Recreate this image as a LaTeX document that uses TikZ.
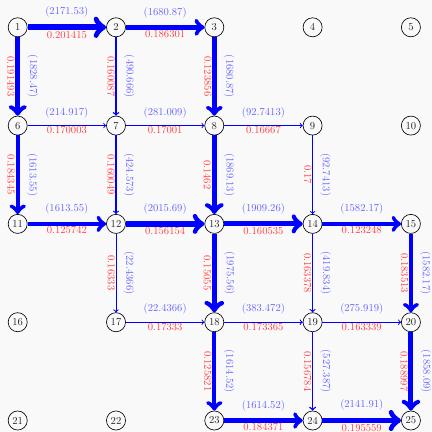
\documentclass[tikz,border=0pt]{standalone}
\usetikzlibrary{arrows}
\tikzset{
  vtx/.style={circle, draw=black, line width=0.6pt, minimum size=18pt, inner sep=0pt, fill=gray!5, text=black!85},
  fline/.style={draw=blue, ->},
  flowlab/.style={text=blue!60, inner sep=0pt, outer sep=0pt, font=\normalsize},
  ratlab/.style={text=red!75, inner sep=0pt, outer sep=0pt, font=\normalsize},
}
\newcommand\fe[4]{%
  \pgfmathsetmacro\lw{max(0.9,#3/390)}%
  \pgfmathsetmacro\ha{\lw/2+6.8}%
  \pgfmathsetmacro\hb{\lw/2+0.6}%
  \draw[fline, line width=\lw pt] (#1) -- node[flowlab, sloped, above=\ha pt] {(#3)} node[ratlab, sloped, below=\hb pt] {#4} (#2);}
\begin{document}
\begin{tikzpicture}[x=0.944pt, y=-0.944pt]
\fill[gray!5] (0,0) rectangle (432,432);
\useasboundingbox (0,0) rectangle (432,432);
\foreach \j in {0,...,4}{
  \foreach \i in {0,...,4}{
    \pgfmathtruncatemacro\n{\j*5+\i+1}
    \node[vtx] (n\n) at ({17.7+98.3*\i},{27.3+98.3*\j}) {\n};
  }
}
\fe{n1}{n2}{2171.53}{0.201415}
\fe{n2}{n3}{1680.87}{0.186301}
\fe{n1}{n6}{1828.47}{0.191493}
\fe{n2}{n7}{490.666}{0.160087}
\fe{n3}{n8}{1680.87}{0.123856}
\fe{n6}{n7}{214.917}{0.170003}
\fe{n7}{n8}{281.009}{0.17001}
\fe{n8}{n9}{92.7413}{0.16667}
\fe{n6}{n11}{1613.55}{0.184345}
\fe{n7}{n12}{424.573}{0.160049}
\fe{n8}{n13}{1869.13}{0.1462}
\fe{n9}{n14}{92.7413}{0.17}
\fe{n11}{n12}{1613.55}{0.125742}
\fe{n12}{n13}{2015.69}{0.156154}
\fe{n13}{n14}{1909.26}{0.160535}
\fe{n14}{n15}{1582.17}{0.123248}
\fe{n12}{n17}{22.4366}{0.16333}
\fe{n13}{n18}{1975.56}{0.15055}
\fe{n14}{n19}{419.834}{0.163378}
\fe{n15}{n20}{1582.17}{0.183513}
\fe{n17}{n18}{22.4366}{0.17333}
\fe{n18}{n19}{383.472}{0.173365}
\fe{n19}{n20}{275.919}{0.163339}
\fe{n18}{n23}{1614.52}{0.125821}
\fe{n19}{n24}{527.387}{0.156784}
\fe{n20}{n25}{1858.09}{0.188997}
\fe{n23}{n24}{1614.52}{0.184371}
\fe{n24}{n25}{2141.91}{0.195559}
\end{tikzpicture}
\end{document}
